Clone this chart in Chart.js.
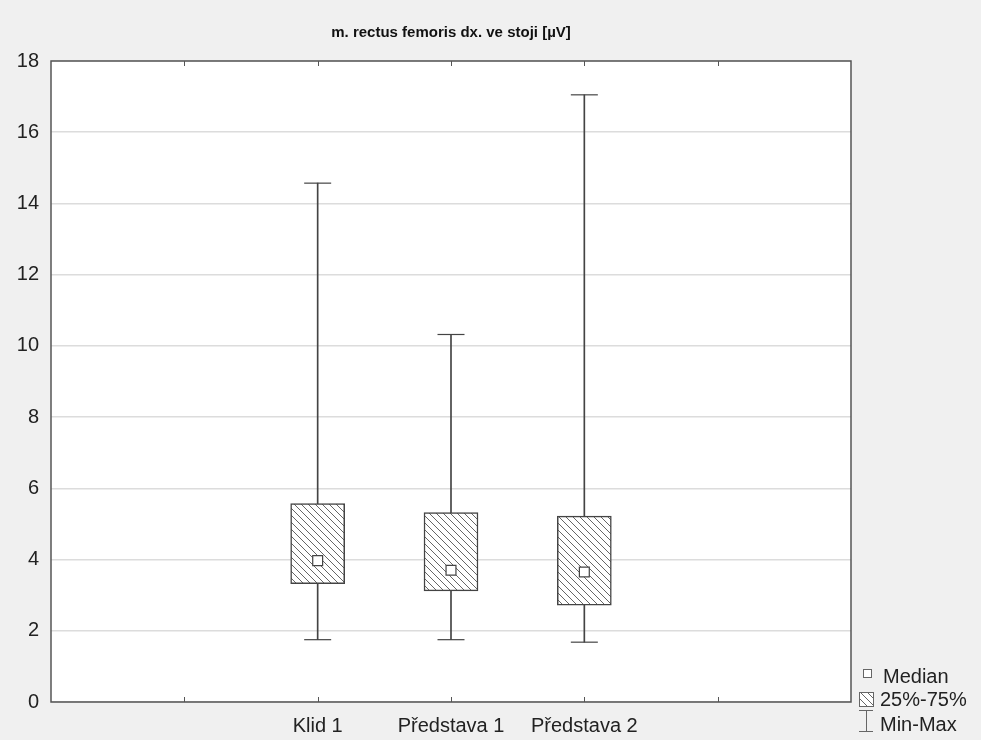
<!DOCTYPE html>
<html>
<head>
<meta charset="utf-8">
<script src="https://cdn.jsdelivr.net/npm/chart.js@4"></script>
<style>
  html, body { margin: 0; padding: 0; background: #f0f0f0; }
  #wrap { width: 981px; height: 740px; }
</style>
</head>
<body>
<div id="wrap"><canvas id="chart" width="981" height="740"></canvas></div>
<script>
const categories = ['Klid 1', 'Představa 1', 'Představa 2'];
const mins = [1.75, 1.75, 1.68];
const q1 = [3.32, 3.12, 2.72];
const medians = [3.97, 3.70, 3.65];
const q3 = [5.57, 5.32, 5.22];
const maxs = [14.57, 10.32, 17.05];
const legendLabels = ['Median', '25%-75%', 'Min-Max'];

const FONT = 'Liberation Sans, Arial, sans-serif';
const INK = '#444';

// category i sits at x = i + 2 on a 0..6 axis
const pos = i => i + 2;

function hatch(color) {
  let c = document.createElement('canvas');
  c.width = 7; c.height = 7;
  let g = c.getContext('2d');
  g.fillStyle = '#fff';
  g.fillRect(0, 0, 7, 7);
  g.strokeStyle = color;
  g.lineWidth = 1;
  g.beginPath();
  g.moveTo(-1, -1); g.lineTo(8, 8);
  g.stroke();
  return g.createPattern(c, 'repeat');
}
const pattern = hatch('#666');

const frame = {
  id: 'frame',
  beforeDraw(chart) {
    let {ctx, chartArea: a} = chart;
    ctx.save();
    ctx.fillStyle = '#f0f0f0';
    ctx.fillRect(0, 0, chart.width, chart.height);
    ctx.fillStyle = '#fff';
    ctx.fillRect(a.left, a.top, a.right - a.left, a.bottom - a.top);
    ctx.restore();
  },
  afterDraw(chart) {
    let {ctx, chartArea: a} = chart;
    let x = chart.scales.x;
    ctx.save();
    ctx.strokeStyle = '#555';
    ctx.lineWidth = 1.5;
    ctx.strokeRect(a.left, a.top, a.right - a.left, a.bottom - a.top);
    // inner tick marks top and bottom
    ctx.lineWidth = 1;
    ctx.beginPath();
    for (let v = 1; v <= 5; v++) {
      let px = Math.round(x.getPixelForValue(v)) + 0.5;
      ctx.moveTo(px, a.top); ctx.lineTo(px, a.top + 5);
      ctx.moveTo(px, a.bottom); ctx.lineTo(px, a.bottom - 5);
    }
    ctx.stroke();

    // legend
    let lx = a.right + 8;
    ctx.strokeStyle = '#666';
    ctx.lineWidth = 1;
    ctx.fillStyle = '#fff';
    ctx.fillRect(lx + 4, 669, 8, 8);
    ctx.strokeRect(lx + 4.5, 669.5, 8, 8);
    ctx.fillStyle = pattern;
    ctx.fillRect(lx, 692, 14, 14);
    ctx.strokeRect(lx + 0.5, 692.5, 14, 14);
    ctx.beginPath();
    ctx.moveTo(lx, 710.5); ctx.lineTo(lx + 14, 710.5);
    ctx.moveTo(lx + 7.5, 710.5); ctx.lineTo(lx + 7.5, 731.5);
    ctx.moveTo(lx, 731.5); ctx.lineTo(lx + 14, 731.5);
    ctx.stroke();
    ctx.fillStyle = '#222';
    ctx.font = '20px ' + FONT;
    ctx.textBaseline = 'alphabetic';
    ctx.fillText(legendLabels[0], lx + 24, 683);
    ctx.fillText(legendLabels[1], lx + 21, 706);
    ctx.fillText(legendLabels[2], lx + 21, 731);
    ctx.restore();
  }
};

let ctx = document.getElementById('chart');
new Chart(ctx, {
  type: 'bar',
  data: {
    datasets: [
      {
        label: 'whisker',
        data: categories.map((c, i) => ({x: pos(i), y: [mins[i], maxs[i]]})),
        backgroundColor: INK,
        barThickness: 1,
        grouped: false,
        order: 4
      },
      {
        type: 'scatter',
        label: 'caps',
        data: categories.map((c, i) => ({x: pos(i), y: mins[i]}))
          .concat(categories.map((c, i) => ({x: pos(i), y: maxs[i]}))),
        pointStyle: 'line',
        radius: 13.5,
        borderColor: INK,
        borderWidth: 1.2,
        order: 3
      },
      {
        label: '25%-75%',
        data: categories.map((c, i) => ({x: pos(i), y: [q1[i], q3[i]]})),
        backgroundColor: pattern,
        borderColor: INK,
        borderWidth: 1.5,
        borderSkipped: false,
        barThickness: 54,
        grouped: false,
        order: 2
      },
      {
        type: 'scatter',
        label: 'Median',
        data: categories.map((c, i) => ({x: pos(i), y: medians[i]})),
        pointStyle: 'rect',
        radius: 7,
        backgroundColor: '#fff',
        borderColor: INK,
        borderWidth: 1.2,
        order: 1
      }
    ]
  },
  options: {
    responsive: false,
    animation: false,
    layout: { padding: { left: 0, right: 130, top: 0, bottom: 0 } },
    plugins: {
      legend: { display: false },
      tooltip: { enabled: false },
      title: {
        display: true,
        text: 'm. rectus femoris dx. ve stoji [µV]',
        fullSize: false,
        color: '#111',
        font: { family: FONT, size: 15, weight: 'bold', lineHeight: 1.2 },
        padding: { top: 24, bottom: 19 }
      }
    },
    scales: {
      x: {
        type: 'linear',
        min: 0,
        max: 6,
        offset: false,
        afterFit: s => { s.height = 38; },
        grid: { display: false },
        border: { display: false },
        ticks: {
          stepSize: 1,
          autoSkip: false,
          maxRotation: 0,
          padding: 4,
          color: '#222',
          font: { family: FONT, size: 20 },
          callback: v => categories[v - 2] || ''
        }
      },
      y: {
        min: 0,
        max: 18,
        afterFit: s => { s.width = 51; },
        grid: { color: '#dcdcdc', lineWidth: 1.5, drawTicks: false },
        border: { display: false },
        ticks: {
          stepSize: 2,
          padding: 12,
          color: '#222',
          font: { family: FONT, size: 20 }
        }
      }
    }
  },
  plugins: [frame]
});
</script>
</body>
</html>
